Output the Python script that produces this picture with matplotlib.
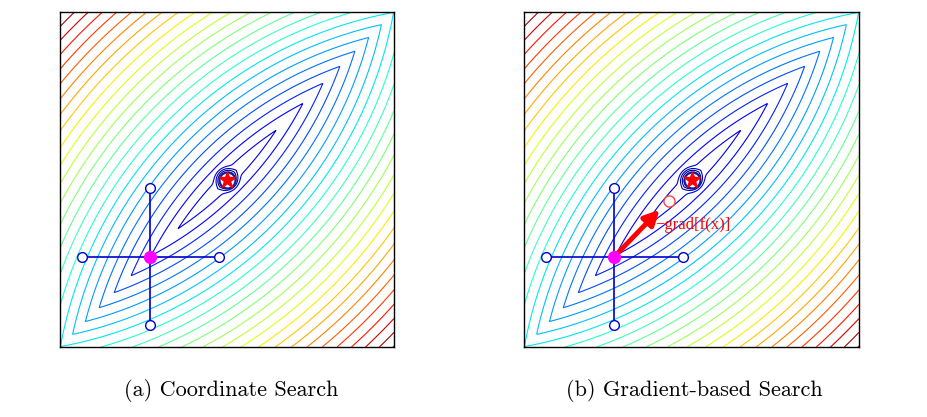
import numpy as np
import matplotlib
matplotlib.use("Agg")
import matplotlib.pyplot as plt
from matplotlib.colors import Normalize

# --- data (panel spans -1..1 in both directions) ---
optimum = [0.0, 0.0]              # red star, centre of the valley
current = [-0.46, -0.46]          # magenta point
step = 0.41                       # coordinate search step length
grad_tip = [-0.19, -0.18]         # head of the -grad arrow
grad_probe = [-0.134, -0.129]     # red open circle after the gradient step
captions = ["(a) Coordinate Search", "(b) Gradient-based Search"]
grad_label = "\u2212grad[f(x)]"

# objective: lens shaped valley (max of distances to two far points) plus a narrow well at the optimum
focus_dist = 2.035
well_depth = 0.2
well_width = 0.062
level_start = focus_dist + 0.042
level_step = 0.057
n_well_levels = 3

def objective(X, Y):
    a = focus_dist / np.sqrt(2)
    dA = np.hypot(X + a, Y - a)
    dB = np.hypot(X - a, Y + a)
    r = np.hypot(X - optimum[0], Y - optimum[1])
    return np.maximum(dA, dB) - well_depth * np.exp(-(r / well_width) ** 4)

x = np.linspace(-1, 1, 800)
X, Y = np.meshgrid(x, x)
Z = objective(X, Y)
levels = level_start + level_step * np.arange(-n_well_levels, 40)
levels = levels[levels <= Z.max()]
norm = Normalize(vmin=level_start - 2.3 * level_step, vmax=levels.max())

fig = plt.figure(figsize=(9.27, 4.17), dpi=100)
W, H = 927, 417
panels = [(60, 12, 334, 335), (524, 12, 335, 335)]
axes = []
for (px, py, pw, ph) in panels:
    ax = fig.add_axes([px / W, 1 - (py + ph) / H, pw / W, ph / H])
    ax.contour(X, Y, Z, levels=levels, cmap="jet", norm=norm, linewidths=0.8)
    ax.set_xlim(-1, 1)
    ax.set_ylim(-1, 1)
    ax.set_xticks([])
    ax.set_yticks([])
    for s in ax.spines.values():
        s.set_linewidth(1.0)
        s.set_color("black")
    axes.append(ax)

for ax in axes:
    cx, cy = current
    # coordinate cross
    ax.plot([cx - step, cx + step], [cy, cy], color="#0000cc", lw=1.2, zorder=3)
    ax.plot([cx, cx], [cy - step, cy + step], color="#0000cc", lw=1.2, zorder=3)
    ax.plot([cx - step, cx + step, cx, cx], [cy, cy, cy - step, cy + step], "o",
            ms=7, mfc="white", mec="#0000cc", mew=1.0, zorder=4)
    # optimum
    ax.plot(optimum[0], optimum[1], "o", ms=11.5, mfc="white", mec="#1a1a99", mew=1.6, zorder=4)
    ax.plot(optimum[0], optimum[1], "*", ms=12, color="red", mec="red", zorder=5)

# gradient arrow on the right panel
axb = axes[1]
axb.annotate("", xy=grad_tip, xytext=current,
             arrowprops=dict(arrowstyle="-|>,head_length=0.9,head_width=0.45", color="red",
                             lw=3.5, shrinkA=0, shrinkB=0), zorder=5)
axb.plot(grad_probe[0], grad_probe[1], "o", ms=8, mfc="white", mec="#ff4040", mew=1.0, zorder=5)
axb.text(-0.215, -0.27, grad_label, color="red", fontsize=12, family="Liberation Serif",
         va="center", ha="left", zorder=6)

for ax in axes:
    cx, cy = current
    ax.plot(cx, cy, "o", ms=8.5, color="magenta", zorder=6)

fig.text(231 / W, 1 - 390 / H, captions[0], fontname="cmr10", fontsize=16, ha="center", va="center")
fig.text(694 / W, 1 - 390 / H, captions[1], fontname="cmr10", fontsize=16, ha="center", va="center")

fig.savefig("out.png", dpi=100)
